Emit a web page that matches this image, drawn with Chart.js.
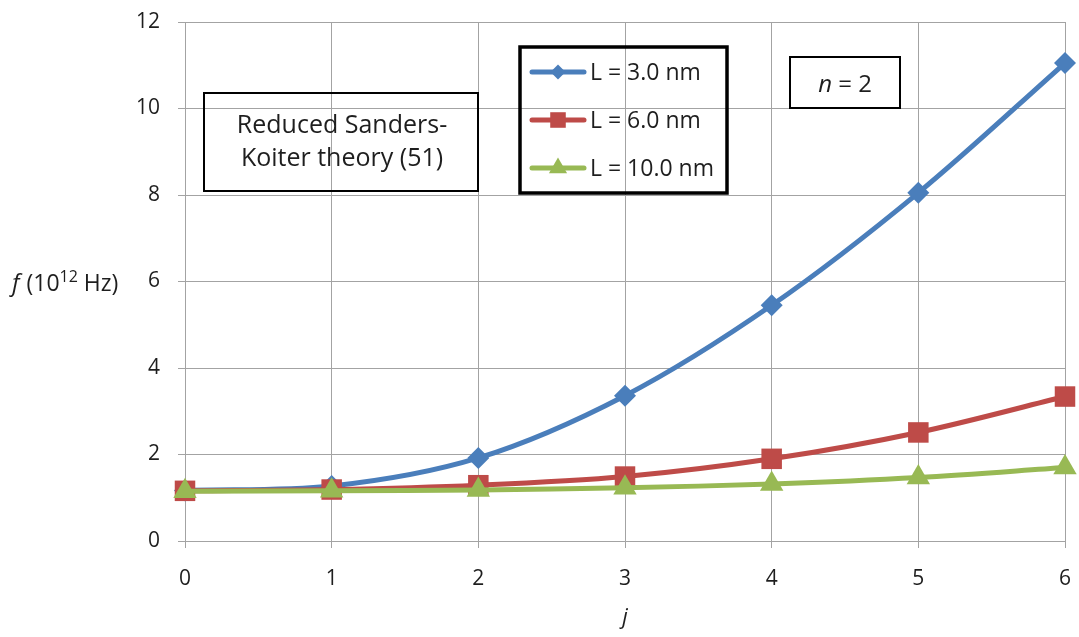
<!DOCTYPE html>
<html>
<head>
<meta charset="utf-8">
<script src="https://cdn.jsdelivr.net/npm/chart.js@4.4.0/dist/chart.umd.min.js"></script>
<style>
  html, body { margin: 0; padding: 0; background: #fff; }
  #wrap { width: 1079px; height: 637px; position: relative; }
</style>
</head>
<body>
<div id="wrap"><canvas id="FreqChart" width="1079" height="637"></canvas></div>
<script>
// j (x axis) and frequency f in 10^12 Hz for each tube length
const j_values = [0, 1, 2, 3, 4, 5, 6];
const f_L3 = [1.17, 1.27, 1.92, 3.36, 5.45, 8.05, 11.05];
const f_L6 = [1.16, 1.19, 1.29, 1.49, 1.90, 2.51, 3.34];
const f_L10 = [1.15, 1.16, 1.18, 1.23, 1.32, 1.47, 1.70];
const series_labels = ['L = 3.0 nm', 'L = 6.0 nm', 'L = 10.0 nm'];
const y_ticks = [0, 2, 4, 6, 8, 10, 12];
const note_lines = ['Reduced Sanders-', 'Koiter theory (51)'];

const FONT = "'Open Sans', 'Liberation Sans', sans-serif";
const GRID = '#a3a3a3';
const TEXT = '#1e1e1e';

const styles = [
    {color: '#4a7ebb', pointStyle: 'rectRot', radius: 11, legendRadius: 7.5},
    {color: '#be4b48', pointStyle: 'rect', radius: 14.5, legendRadius: 11},
    {color: '#98b954', pointStyle: 'triangle', radius: 13.5, legendRadius: 10.5},
];

function toPoints(ys) {
    return j_values.map((x, i) => ({x: x, y: ys[i]}));
}

const series = [f_L3, f_L6, f_L10];

// boxes, legend and the horizontal y title
const annotations = {
    id: 'annotations',
    afterDraw(chart) {
        const ctx = chart.ctx;
        const area = chart.chartArea;
        ctx.save();

        // y axis title: f (10^12 Hz)
        const ty = (area.top + area.bottom) / 2 + 3;
        let tx = 12;
        ctx.fillStyle = TEXT;
        ctx.textBaseline = 'middle';
        ctx.textAlign = 'left';
        ctx.font = "italic 24px " + FONT;
        ctx.fillText('f', tx, ty);
        tx += ctx.measureText('f').width + 7;
        ctx.font = "23px " + FONT;
        ctx.fillText('(10', tx, ty);
        tx += ctx.measureText('(10').width;
        ctx.font = "16px " + FONT;
        ctx.fillText('12', tx, ty - 7);
        tx += ctx.measureText('12').width + 6;
        ctx.font = "23px " + FONT;
        ctx.fillText('Hz)', tx, ty);

        // note box
        ctx.strokeStyle = '#000';
        ctx.lineWidth = 2;
        ctx.strokeRect(204, 93, 274, 98);
        ctx.font = "25px " + FONT;
        ctx.textAlign = 'center';
        ctx.fillText(note_lines[0], 342, 126);
        ctx.fillText(note_lines[1], 342, 159);

        // n = 2 box
        ctx.strokeRect(790, 57, 110, 51);
        ctx.font = "italic 24px " + FONT;
        ctx.textAlign = 'left';
        const nw = ctx.measureText('n').width;
        ctx.font = "24px " + FONT;
        const rest = ' = 2';
        const total = nw + ctx.measureText(rest).width;
        let nx = 845 - total / 2;
        ctx.font = "italic 24px " + FONT;
        ctx.fillText('n', nx, 85);
        ctx.font = "24px " + FONT;
        ctx.fillText(rest, nx + nw, 85);

        // legend
        ctx.lineWidth = 3.5;
        ctx.strokeRect(520, 47, 207, 146);
        const rows = [72, 120, 168];
        series_labels.forEach((label, i) => {
            const st = styles[i];
            const y = rows[i];
            ctx.strokeStyle = st.color;
            ctx.lineWidth = 5;
            ctx.lineCap = 'round';
            ctx.beginPath();
            ctx.moveTo(532, y);
            ctx.lineTo(584, y);
            ctx.stroke();
            ctx.fillStyle = st.color;
            Chart.helpers.drawPoint(ctx, {pointStyle: st.pointStyle, radius: st.legendRadius, borderWidth: 0, rotation: 0}, 558, y);
            ctx.fillStyle = TEXT;
            ctx.font = "23px " + FONT;
            ctx.textAlign = 'left';
            ctx.fillText(label, 590, y + 1);
        });
        ctx.restore();
    }
};

const chart = new Chart(
    document.getElementById('FreqChart'),
    {
        type: 'line',
        data: {
            datasets: series.map((ys, i) => ({
                label: series_labels[i],
                data: toPoints(ys),
                borderColor: styles[i].color,
                backgroundColor: styles[i].color,
                borderWidth: 5,
                pointStyle: styles[i].pointStyle,
                pointRadius: styles[i].radius,
                pointBorderWidth: 0,
                pointHoverRadius: styles[i].radius,
                tension: 0.33,
                fill: false,
                clip: false,
                order: 2 - i,
            }))
        },
        options: {
            responsive: false,
            animation: false,
            devicePixelRatio: 1,
            layout: {
                autoPadding: false,
                padding: {top: 22, right: 14, bottom: 0, left: 0}
            },
            plugins: {
                legend: {display: false},
                tooltip: {enabled: false}
            },
            scales: {
                x: {
                    type: 'linear',
                    min: j_values[0],
                    max: j_values[j_values.length - 1],
                    grid: {color: GRID, tickLength: 7, lineWidth: 1},
                    border: {color: GRID},
                    ticks: {
                        stepSize: 1,
                        color: TEXT,
                        padding: 18,
                        font: {family: FONT, size: 21}
                    },
                    title: {
                        display: true,
                        text: 'j',
                        color: TEXT,
                        font: {family: FONT, size: 22, style: 'italic'},
                        padding: {top: 0, bottom: 6}
                    },
                    afterFit: (scale) => {
                        scale.height = 96;
                        scale.paddingLeft = 0;
                        scale.paddingRight = 0;
                    }
                },
                y: {
                    min: y_ticks[0],
                    max: y_ticks[y_ticks.length - 1],
                    grid: {color: GRID, tickLength: 7, lineWidth: 1},
                    border: {color: GRID},
                    ticks: {
                        stepSize: y_ticks[1] - y_ticks[0],
                        color: TEXT,
                        padding: 18,
                        font: {family: FONT, size: 21}
                    },
                    afterFit: (scale) => {
                        scale.width = 185;
                        scale.paddingTop = 0;
                        scale.paddingBottom = 0;
                    }
                }
            }
        },
        plugins: [annotations]
    }
);
</script>
</body>
</html>
